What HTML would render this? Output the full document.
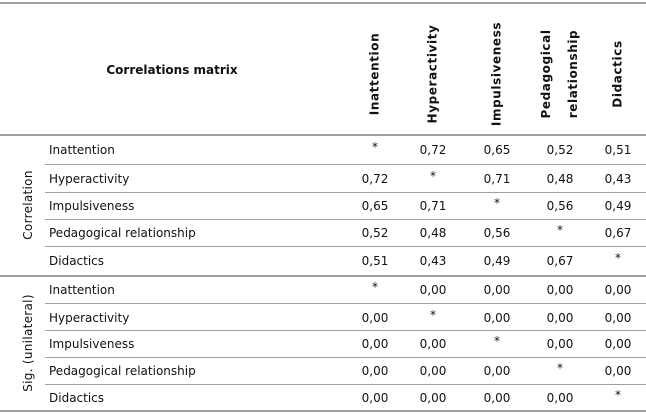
<!DOCTYPE html>
<html><head><meta charset="utf-8"><style>
body{margin:0;width:646px;height:414px;background:#fff;position:relative;overflow:hidden;font-family:"DejaVu Sans","Liberation Sans",sans-serif;font-size:12px;color:#111}
.ln{position:absolute;height:2px;background:#a0a0a0}
.t{position:absolute;white-space:nowrap;transform:translate(-50%,-50%)}
.l{position:absolute;white-space:nowrap;transform:translateY(-50%)}
.r{position:absolute;white-space:nowrap;transform:translate(-50%,-50%) rotate(-90deg);font-weight:bold;text-align:center;line-height:27px;letter-spacing:0.6px}
.s{position:absolute;white-space:nowrap;transform:translate(-50%,-50%) rotate(-90deg);letter-spacing:0.3px}
</style></head><body>
<div class="ln" style="left:0;top:2px;width:646px"></div>
<div class="ln" style="left:0;top:134px;width:646px"></div>
<div class="ln" style="left:0;top:275px;width:646px"></div>
<div class="ln" style="left:0;top:410px;width:646px"></div>
<div class="t" style="left:172px;top:70px;font-weight:bold">Correlations matrix</div>
<div class="s" style="left:28px;top:205px">Correlation</div>
<div class="s" style="left:28px;top:343px">Sig. (unilateral)</div>
<script>
const vars=["Inattention","Hyperactivity","Impulsiveness","Pedagogical relationship","Didactics"];
const headers=["Inattention","Hyperactivity","Impulsiveness","Pedagogical<br>relationship","Didactics"];
const corr=[["*","0,72","0,65","0,52","0,51"],["0,72","*","0,71","0,48","0,43"],["0,65","0,71","*","0,56","0,49"],["0,52","0,48","0,56","*","0,67"],["0,51","0,43","0,49","0,67","*"]];
const sig=[["*","0,00","0,00","0,00","0,00"],["0,00","*","0,00","0,00","0,00"],["0,00","0,00","*","0,00","0,00"],["0,00","0,00","0,00","*","0,00"],["0,00","0,00","0,00","0,00","*"]];
const colX=[375,433,497,560,618];
const rowsY=[[150,179,206,233,261],[290,318,344,371,398]];
const linesY=[[164,192,219,246],[303,330,357,384]];
function add(cls,x,y,html,name){const d=document.createElement('div');d.className=cls;d.style.left=x+'px';d.style.top=y+'px';d.innerHTML=html;


document.body.appendChild(d);return d;}
headers.forEach((h,i)=>{add('r',colX[i],74,h,'column-header');});
[corr,sig].forEach((m,s)=>{
 linesY[s].forEach(y=>{const d=add('ln',45,y,'','row-divider');d.style.width='601px';d.style.height='1px';});
 m.forEach((row,r)=>{
  add('l',49,rowsY[s][r],vars[r],'row-label');
  row.forEach((v,c)=>{const d=add('t',colX[c],rowsY[s][r]+(v==='*'?-3:0),v,'cell-value');});
 });
});
</script>
</body></html>
